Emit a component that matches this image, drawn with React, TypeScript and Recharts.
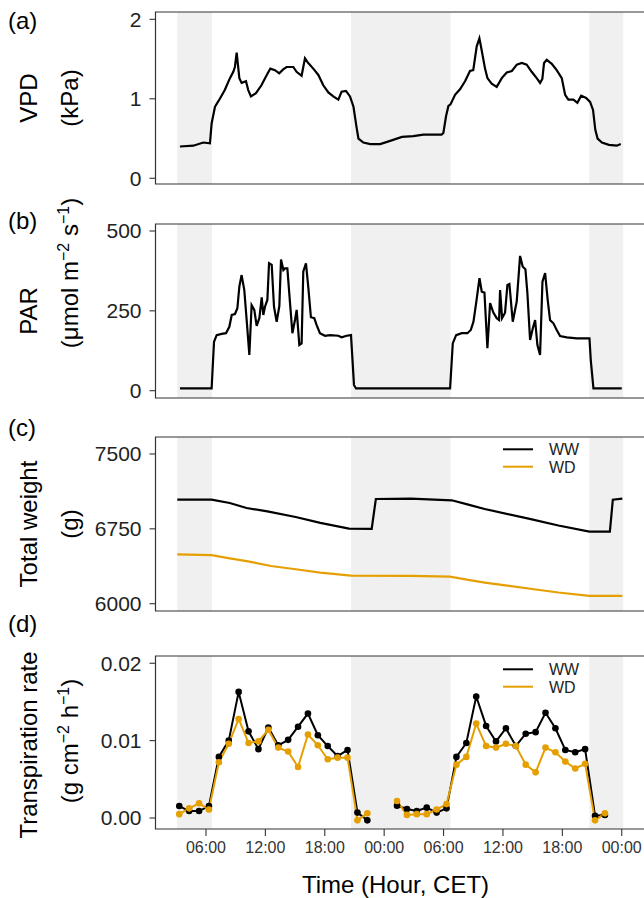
import React from 'react';
import { LineChart, Line, XAxis, YAxis, ReferenceArea } from 'recharts';

// hours since 00:00 of day 1 (CET)
const nightStart = [3.1, 20.65, 44.73];
const nightEnd = [6.6, 30.7, 48.15];
const timeTicks = [6, 12, 18, 24, 30, 36, 42, 48];

const vpdHours = [3.37, 4.72, 5.73, 6.4, 6.57, 6.91, 7.4, 7.9, 8.42, 8.76, 8.92, 9.1, 9.37, 9.6, 10.04, 10.27, 10.54, 11.05, 11.6, 12.1, 12.5, 12.97, 13.4, 13.8, 14.14, 14.82, 15.15, 15.66, 16.0, 16.33, 16.84, 17.35, 17.85, 18.36, 18.86, 19.37, 19.7, 20.14, 20.55, 20.9, 21.2, 21.4, 21.9, 22.6, 23.6, 24.6, 25.8, 26.95, 27.96, 29.8, 29.98, 30.25, 30.49, 30.7, 31.16, 31.66, 32.17, 32.67, 33.0, 33.35, 33.62, 33.85, 34.19, 34.43, 34.86, 35.37, 35.88, 36.38, 36.9, 37.4, 37.9, 38.4, 38.9, 39.41, 39.75, 39.98, 40.15, 40.42, 40.93, 41.43, 41.94, 42.28, 42.61, 43.12, 43.52, 43.9, 44.4, 44.8, 45.1, 45.33, 45.56, 46.0, 46.7, 47.5, 47.9];
const vpdKpa = [0.4, 0.41, 0.45, 0.44, 0.69, 0.9, 1.0, 1.11, 1.26, 1.34, 1.4, 1.58, 1.26, 1.2, 1.22, 1.11, 1.03, 1.07, 1.17, 1.29, 1.38, 1.36, 1.32, 1.37, 1.4, 1.4, 1.34, 1.29, 1.51, 1.45, 1.38, 1.3, 1.17, 1.08, 1.03, 0.99, 1.09, 1.1, 1.03, 0.9, 0.65, 0.5, 0.45, 0.43, 0.43, 0.47, 0.52, 0.53, 0.55, 0.55, 0.57, 0.78, 0.91, 0.93, 1.05, 1.12, 1.22, 1.35, 1.36, 1.66, 1.76, 1.61, 1.38, 1.26, 1.19, 1.15, 1.26, 1.33, 1.35, 1.43, 1.45, 1.43, 1.34, 1.26, 1.2, 1.25, 1.45, 1.49, 1.44, 1.36, 1.26, 1.05, 0.99, 0.99, 0.95, 1.04, 1.01, 0.96, 0.86, 0.61, 0.5, 0.45, 0.42, 0.41, 0.43];

const parHours = [3.37, 6.57, 6.81, 7.08, 7.58, 8.02, 8.36, 8.6, 8.93, 9.17, 9.37, 9.6, 9.87, 10.11, 10.38, 10.61, 10.88, 11.12, 11.39, 11.63, 11.79, 11.96, 12.2, 12.37, 12.64, 12.87, 13.14, 13.41, 13.58, 13.82, 13.98, 14.22, 14.49, 14.73, 15.0, 15.16, 15.43, 15.66, 15.83, 16.1, 16.33, 16.6, 16.94, 17.17, 17.51, 18.02, 18.52, 19.37, 19.7, 20.21, 20.65, 20.95, 21.15, 25.6, 30.66, 30.93, 31.27, 31.84, 32.41, 32.75, 33.02, 33.29, 33.63, 33.86, 34.13, 34.43, 34.7, 35.04, 35.37, 35.61, 35.71, 35.91, 36.21, 36.45, 36.65, 36.99, 37.39, 37.73, 38.0, 38.27, 38.47, 38.74, 39.01, 39.25, 39.48, 39.75, 39.99, 40.26, 40.52, 40.76, 41.1, 41.43, 41.77, 42.45, 43.46, 44.13, 44.74, 44.87, 45.14, 48.0];
const parValues = [7, 7, 153, 174, 178, 180, 200, 237, 240, 258, 326, 362, 315, 221, 112, 268, 253, 203, 227, 292, 237, 263, 284, 399, 394, 263, 216, 265, 411, 378, 383, 383, 274, 180, 223, 253, 143, 148, 373, 399, 326, 230, 227, 206, 180, 172, 174, 172, 167, 172, 174, 18, 7, 7, 7, 148, 174, 180, 180, 190, 216, 274, 352, 310, 307, 133, 274, 244, 227, 221, 315, 227, 244, 331, 334, 216, 279, 422, 388, 380, 305, 159, 195, 221, 143, 112, 341, 368, 284, 221, 211, 190, 171, 167, 164, 164, 164, 96, 7, 7];

const weightHoursWW = [3.1, 6.56, 8.4, 10.1, 12.2, 15.06, 17.55, 20.45, 22.74, 23.16, 26.7, 30.83, 32.5, 34.15, 38.7, 41.6, 44.73, 46.8, 47.1, 48.06];
const weightWW = [7042, 7042, 7009, 6959, 6925, 6869, 6810, 6753, 6750, 7049, 7052, 7036, 6992, 6949, 6850, 6783, 6723, 6723, 7042, 7052];
const weightHoursWD = [3.1, 6.56, 8.4, 10.1, 12.57, 15.06, 17.55, 20.66, 26.7, 30.63, 32.5, 34.15, 36.64, 39.13, 41.6, 44.73, 48.06];
const weightWD = [6494, 6487, 6454, 6427, 6378, 6345, 6312, 6282, 6278, 6272, 6238, 6212, 6178, 6145, 6112, 6079, 6079];

const trHours = [3.3, 4.3, 5.3, 6.3, 7.3, 8.3, 9.3, 10.3, 11.3, 12.3, 13.3, 14.3, 15.3, 16.3, 17.3, 18.3, 19.3, 20.3, 21.3, 22.3, 23.8, 25.3, 26.3, 27.3, 28.3, 29.3, 30.3, 31.3, 32.3, 33.3, 34.3, 35.3, 36.3, 37.3, 38.3, 39.3, 40.3, 41.3, 42.3, 43.3, 44.3, 45.3, 46.3];
const trWW = [0.00155, 0.0009, 0.0009, 0.00155, 0.0079, 0.01, 0.0163, 0.0112, 0.0089, 0.0117, 0.0094, 0.0101, 0.0118, 0.0135, 0.0107, 0.0093, 0.008, 0.0088, 0.0007, -0.0003, null, 0.0016, 0.00116, 0.0009, 0.00134, 0.0007, 0.00125, 0.0079, 0.0097, 0.0157, 0.0119, 0.0099, 0.0116, 0.0093, 0.0109, 0.0111, 0.0136, 0.0116, 0.0088, 0.0085, 0.0089, 0.0003, 0.0004];
const trWD = [0.0005, 0.00125, 0.0019, 0.0011, 0.0072, 0.0096, 0.0128, 0.0097, 0.0099, 0.0114, 0.0091, 0.0086, 0.0066, 0.0108, 0.0094, 0.0076, 0.0078, 0.0078, -0.0003, 0.0006, null, 0.0022, 0.0004, 0.0005, 0.0005, 0.0011, 0.0018, 0.0069, 0.0079, 0.0122, 0.0093, 0.0091, 0.0096, 0.0093, 0.0069, 0.0059, 0.0091, 0.0085, 0.0073, 0.0064, 0.007, -0.0003, 0.0006];

const BLACK = '#000000';
const ORANGE = '#E69F00';
const FONT = '"Liberation Sans", Arial, sans-serif';
const X_DOMAIN: [number, number] = [0.9, 50.4];
const PLOT_LEFT = 155.5;
const PLOT_W = 490;
const CHART_W = 660;
const TOP_PAD = 5;
const BOTTOM_PAD = 14;

const vpdData = vpdHours.map((t, i) => ({ t, v: vpdKpa[i] }));
const parData = parHours.map((t, i) => ({ t, v: parValues[i] }));
const wwWeightData = weightHoursWW.map((t, i) => ({ t, v: weightWW[i] }));
const wdWeightData = weightHoursWD.map((t, i) => ({ t, v: weightWD[i] }));
const trData = trHours.map((t, i) => ({ t, ww: trWW[i], wd: trWD[i] }));

const hourLabel = (h: number) => `${String(h % 24).padStart(2, '0')}:00`;

function panel(opts: {
  top: number;
  height: number;
  yDomain: [number, number];
  yTicks: number[];
  yFmt?: (v: number) => string;
  showX?: boolean;
  data?: any[];
  series: React.ReactNode[];
}) {
  const { top, height, yDomain, yTicks, yFmt, showX, data, series } = opts;
  const xH = showX ? 60 : 0;
  const bottom = showX ? 0 : BOTTOM_PAD;
  return (
    <div style={{ position: 'absolute', left: 0, top: top - TOP_PAD }}>
      <LineChart
        width={CHART_W}
        height={height + TOP_PAD + xH + bottom}
        data={data}
        margin={{ top: TOP_PAD, right: CHART_W - PLOT_LEFT - PLOT_W, bottom, left: 0 }}
      >
        {nightStart.map((s, i) => (
          <ReferenceArea key={`n${i}`} x1={s} x2={nightEnd[i]} fill="#F0F0F0" fillOpacity={1} stroke="none" ifOverflow="hidden" />
        ))}
        <XAxis
          type="number"
          dataKey="t"
          domain={X_DOMAIN}
          allowDataOverflow
          ticks={timeTicks}
          tickFormatter={hourLabel}
          interval={0}
          hide={!showX}
          height={xH}
          axisLine={false}
          tickSize={7}
          tickMargin={6}
          tickLine={{ stroke: '#333', strokeWidth: 1.1 }}
          tick={{ fontSize: 16, fill: '#333', fontFamily: FONT }}
        />
        <YAxis
          type="number"
          domain={yDomain}
          allowDataOverflow
          ticks={yTicks}
          tickFormatter={yFmt}
          interval={0}
          width={PLOT_LEFT}
          axisLine={false}
          tickSize={6}
          tickMargin={8}
          tickLine={{ stroke: '#333', strokeWidth: 1.1 }}
          tick={{ fontSize: 21, fill: '#222', fontFamily: FONT }}
        />
        {series}
        <ReferenceArea x1={X_DOMAIN[0]} x2={X_DOMAIN[1]} y1={yDomain[0]} y2={yDomain[1]} fill="none" stroke="#333" strokeWidth={1.2} />
      </LineChart>
    </div>
  );
}

const legendItems = (y: number) => (
  <g>
    <line x1={503} x2={533} y1={y} y2={y} stroke={BLACK} strokeWidth={2} />
    <text x={549} y={y + 6} fontSize={16} fill="#222">WW</text>
    <line x1={503} x2={533} y1={y + 17.4} y2={y + 17.4} stroke={ORANGE} strokeWidth={2} />
    <text x={549} y={y + 23.4} fontSize={16} fill="#222">WD</text>
  </g>
);

const rotText = (bx: number, cy: number, content: React.ReactNode, key: string) => (
  <text key={key} transform={`translate(${bx},${cy}) rotate(-90)`} textAnchor="middle" fontSize={24} fill="#000">
    {content}
  </text>
);

export default function App() {
  return (
    <div style={{ position: 'absolute', left: 0, top: 0, width: 644, height: 898, overflow: 'hidden', background: '#fff', fontFamily: FONT }}>
      {panel({
        top: 12,
        height: 172,
        yDomain: [-0.072, 2.092],
        yTicks: [0, 1, 2],
        series: [<Line key="vpd" data={vpdData} dataKey="v" stroke={BLACK} strokeWidth={2.2} dot={false} isAnimationActive={false} />],
      })}
      {panel({
        top: 224,
        height: 174,
        yDomain: [-22.9, 521.9],
        yTicks: [0, 250, 500],
        series: [<Line key="par" data={parData} dataKey="v" stroke={BLACK} strokeWidth={2.2} dot={false} isAnimationActive={false} />],
      })}
      {panel({
        top: 437,
        height: 174,
        yDomain: [5927, 7670],
        yTicks: [6000, 6750, 7500],
        series: [
          <Line key="ww" data={wwWeightData} dataKey="v" stroke={BLACK} strokeWidth={2.2} dot={false} isAnimationActive={false} />,
          <Line key="wd" data={wdWeightData} dataKey="v" stroke={ORANGE} strokeWidth={2.2} dot={false} isAnimationActive={false} />,
        ],
      })}
      {panel({
        top: 656,
        height: 173,
        yDomain: [-0.00142, 0.02094],
        yTicks: [0, 0.01, 0.02],
        yFmt: (v: number) => v.toFixed(2),
        showX: true,
        data: trData,
        series: [
          <Line key="ww" dataKey="ww" stroke={BLACK} strokeWidth={2} dot={{ r: 3.3, fill: BLACK, stroke: BLACK, strokeWidth: 0 }} connectNulls={false} isAnimationActive={false} />,
          <Line key="wd" dataKey="wd" stroke={ORANGE} strokeWidth={2} dot={{ r: 3.3, fill: ORANGE, stroke: ORANGE, strokeWidth: 0 }} connectNulls={false} isAnimationActive={false} />,
        ],
      })}
      <svg width={644} height={898} style={{ position: 'absolute', left: 0, top: 0, pointerEvents: 'none' }} fontFamily={FONT}>
        <text x={8} y={29} fontSize={24}>(a)</text>
        <text x={8} y={229} fontSize={24}>(b)</text>
        <text x={8} y={436} fontSize={24}>(c)</text>
        <text x={8} y={632} fontSize={24}>(d)</text>

        {rotText(37, 98, 'VPD', 'a1')}
        {rotText(78, 98, '(kPa)', 'a2')}
        {rotText(37, 311, 'PAR', 'b1')}
        {rotText(78, 273, (
          <>
            (μmol m<tspan fontSize={16} dy={-9}>−2</tspan>
            <tspan dy={9}> s</tspan>
            <tspan fontSize={16} dy={-9}>−1</tspan>
            <tspan dy={9}>)</tspan>
          </>
        ), 'b2')}
        {rotText(37, 524, 'Total weight', 'c1')}
        {rotText(78, 524, '(g)', 'c2')}
        {rotText(37, 745, 'Transpiration rate', 'd1')}
        {rotText(78, 741, (
          <>
            (g cm<tspan fontSize={16} dy={-9}>−2</tspan>
            <tspan dy={9}> h</tspan>
            <tspan fontSize={16} dy={-9}>−1</tspan>
            <tspan dy={9}>)</tspan>
          </>
        ), 'd2')}

        <text x={395.5} y={893} fontSize={24} textAnchor="middle">Time (Hour, CET)</text>

        {legendItems(449.3)}
        {legendItems(669.3)}
      </svg>
    </div>
  );
}
